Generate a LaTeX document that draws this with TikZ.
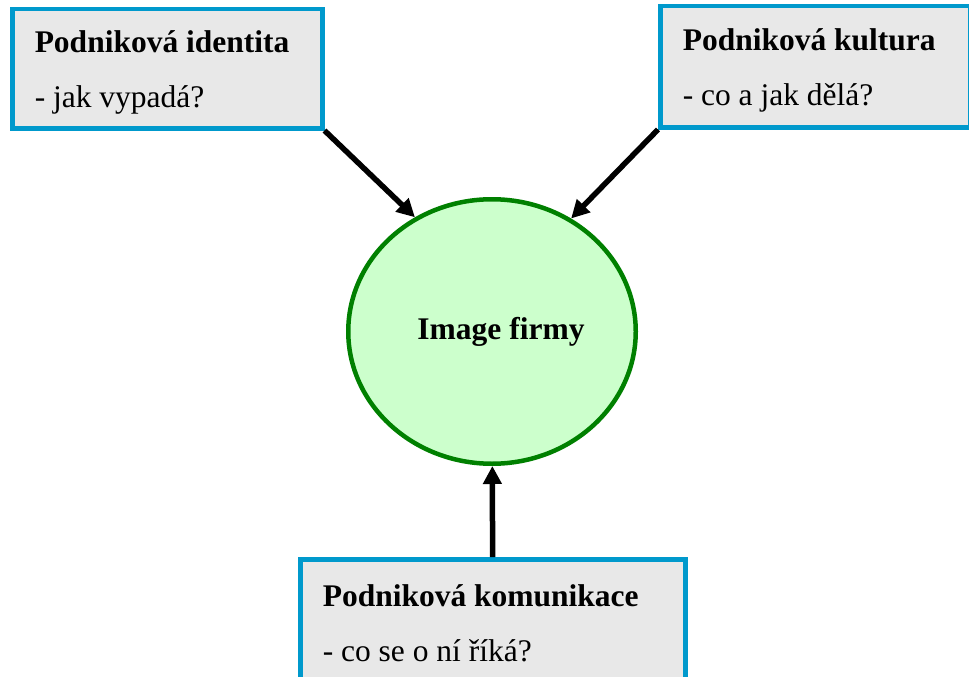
\documentclass[tikz,border=0pt]{standalone}
\usepackage{fontspec}
\setmainfont{Liberation Serif}
\definecolor{img_blue}{RGB}{0, 153, 204}
\definecolor{img_grey}{RGB}{232, 232, 232}
\definecolor{img_green}{RGB}{0, 128, 0}
\definecolor{img_light}{RGB}{204, 255, 204}
\usetikzlibrary{arrows.meta, shapes.geometric}

\begin{document}
\begin{tikzpicture}[x=1pt, y=-1pt,
        infobox/.style={draw=img_blue, fill=img_grey, line width=4.5pt,
              anchor=north west, align=left, inner xsep=22.5pt, inner ysep=0pt,
              font=\fontsize{31.5}{55}\selectfont,
              execute at begin node={\spaceskip=0pt\xspaceskip=0pt}},
        arr/.style={-{Triangle[length=18pt, width=18pt]}, line width=5.5pt, black}]
        \useasboundingbox (0,0) rectangle (969,677);
        \node[infobox, text width=265pt, minimum height=119pt]
              (ident) at (10,7) {\rule{0pt}{29pt}\textbf{Podniková identita}\\- jak vypadá?};
        \node[infobox, text width=265pt, minimum height=121pt]
              (kult) at (658,4) {\rule{0pt}{29pt}\textbf{Podniková kultura}\\- co a jak dělá?};
        \node[infobox, text width=340pt, minimum height=121pt]
              (komu) at (298,557) {\rule{0pt}{29pt}\textbf{Podniková komunikace}\\- co se o ní říká?};
        \node[ellipse, draw=img_green, fill=img_light, line width=4.5pt,
              minimum width=287.5pt, minimum height=264.5pt, inner sep=0pt,
              font=\fontsize{31.5}{38}\selectfont\bfseries]
              (img) at (492,331.5) {\hspace*{18pt}Image firmy};
        \draw[arr] (ident.south east) -- (img.124);
        \draw[arr] (kult.south west) -- (img.55);
        \draw[arr] (komu) -- (img);
      \end{tikzpicture}
\end{document}
